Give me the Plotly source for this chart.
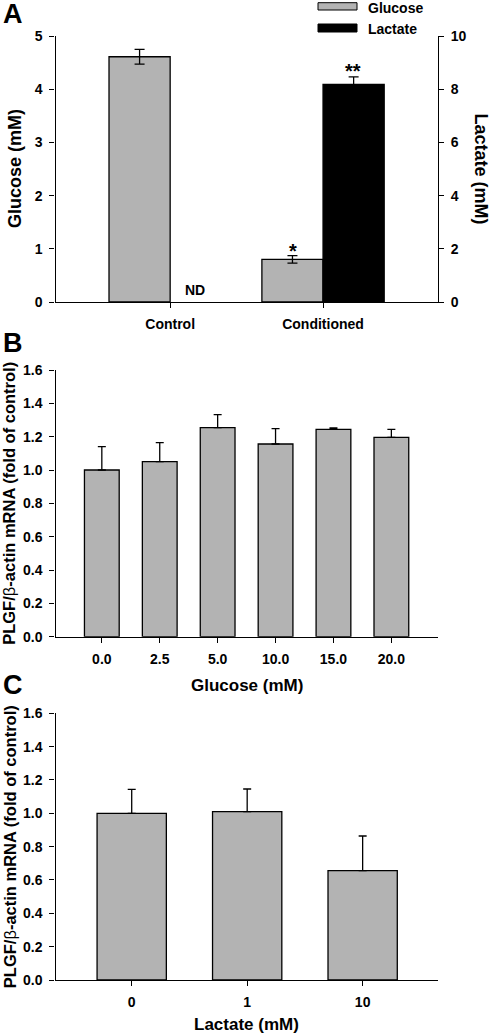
import plotly.graph_objects as go

W, H = 491, 1036

# ---------------- data ----------------
# Panel A
a_categories = ["Control", "Conditioned"]
a_glucose = [4.61, 0.80]
a_glucose_err = [0.14, 0.07]
a_lactate = [None, 8.18]          # ND for control
a_lactate_err = [0, 0.28]

# Panel B
b_categories = ["0.0", "2.5", "5.0", "10.0", "15.0", "20.0"]
b_values = [1.00, 1.05, 1.254, 1.156, 1.244, 1.196]
b_err = [0.14, 0.114, 0.078, 0.092, 0.008, 0.048]

# Panel C
c_categories = ["0", "1", "10"]
c_values = [1.00, 1.01, 0.656]
c_err = [0.144, 0.136, 0.208]

# ---------------- style ----------------
GRAY = "#b3b3b3"
FONT = "Liberation Sans"
TICKFONT = dict(family=FONT, size=14, color="black", weight="bold")


def bold(size):
    return dict(family=FONT, size=size, color="black", weight="bold")


def px_x(x):
    return x / W


def px_y(y):
    return 1 - y / H


X_DOM = [px_x(55.5), px_x(437.7)]
A_DOM = [px_y(302), px_y(36)]
B_DOM = [px_y(636.7), px_y(370)]
C_DOM = [px_y(980), px_y(713.3)]

fig = go.Figure()

# Panel A bars
fig.add_trace(go.Bar(
    x=a_categories, y=a_glucose, name="Glucose",
    offset=-0.4, width=0.4,
    marker=dict(color=GRAY, line=dict(color="black", width=1.3)),
    error_y=dict(type="data", array=a_glucose_err, color="black", thickness=1.3, width=5),
    xaxis="x", yaxis="y", showlegend=False,
))
fig.add_trace(go.Bar(
    x=a_categories, y=a_lactate, name="Lactate",
    offset=0.0, width=0.4,
    marker=dict(color="black", line=dict(color="black", width=1.3)),
    error_y=dict(type="data", array=a_lactate_err, color="black", thickness=1.3, width=5),
    xaxis="x", yaxis="y2", showlegend=False,
))

# Panel B
fig.add_trace(go.Bar(
    x=b_categories, y=b_values, width=0.6,
    marker=dict(color=GRAY, line=dict(color="black", width=1.3)),
    error_y=dict(type="data", array=b_err, arrayminus=[0] * len(b_err),
                 color="black", thickness=1.3, width=4),
    xaxis="x2", yaxis="y3", showlegend=False,
))

# Panel C
fig.add_trace(go.Bar(
    x=c_categories, y=c_values, width=0.6,
    marker=dict(color=GRAY, line=dict(color="black", width=1.3)),
    error_y=dict(type="data", array=c_err, arrayminus=[0] * len(c_err),
                 color="black", thickness=1.3, width=4),
    xaxis="x3", yaxis="y4", showlegend=False,
))

axis_common = dict(
    showline=True, linecolor="black", linewidth=1.3,
    ticks="outside", ticklen=5, tickwidth=1.3, tickcolor="black",
    showgrid=False, zeroline=False, tickfont=TICKFONT, automargin=False,
    fixedrange=True,
)

fig.update_layout(
    width=W, height=H,
    margin=dict(l=0, r=0, t=0, b=0),
    paper_bgcolor="white", plot_bgcolor="white",
    barmode="overlay",
    xaxis=dict(domain=X_DOM, anchor="y", type="category",
               range=[-0.75, 1.75], ticklabelstandoff=4, **axis_common),
    yaxis=dict(domain=A_DOM, anchor="x", range=[0, 5], dtick=1,
               ticklabelstandoff=4, **axis_common),
    yaxis2=dict(overlaying="y", side="right", anchor="x", range=[0, 10], dtick=2,
                ticklabelstandoff=4, **axis_common),
    xaxis2=dict(domain=X_DOM, anchor="y3", type="category",
                range=[-0.8, 5.8], ticklabelstandoff=4, **axis_common),
    yaxis3=dict(domain=B_DOM, anchor="x2", range=[0, 1.6], dtick=0.2,
                tickformat=".1f", ticklabelstandoff=4, **axis_common),
    xaxis3=dict(domain=X_DOM, anchor="y4", type="category",
                range=[-0.66, 2.65], ticklabelstandoff=4, **axis_common),
    yaxis4=dict(domain=C_DOM, anchor="x3", range=[0, 1.6], dtick=0.2,
                tickformat=".1f", ticklabelstandoff=4, **axis_common),
)

ann = []


def paper_text(text, x, y, font, xanchor="center", textangle=0):
    ann.append(dict(text=text, x=px_x(x), y=px_y(y), xref="paper", yref="paper",
                    showarrow=False, font=font, xanchor=xanchor, yanchor="middle",
                    textangle=textangle))


# Panel letters
paper_text("A", 13, 14, bold(27))
paper_text("B", 13, 343, bold(27))
paper_text("C", 13, 685, bold(27))

# Axis titles
paper_text("Glucose (mM)", 15, 169, bold(18), textangle=-90)
paper_text("Lactate (mM)", 480.5, 169, bold(18), textangle=90)
YT = 'PLGF/<span style="font-weight:normal">β</span>-actin mRNA (fold of control)'
paper_text(YT, 9.5, 503.3, bold(16.5), textangle=-90)
paper_text(YT, 9.5, 846.7, bold(16.5), textangle=-90)
paper_text("Glucose (mM)", 246.6, 685, bold(17))
paper_text("Lactate (mM)", 246.6, 1024, bold(17))

# Legend (panel A)
fig.add_shape(type="rect", xref="paper", yref="paper",
              x0=px_x(318), x1=px_x(357), y0=px_y(10), y1=px_y(2.7),
              fillcolor=GRAY, line=dict(color="black", width=1))
fig.add_shape(type="rect", xref="paper", yref="paper",
              x0=px_x(318), x1=px_x(357), y0=px_y(32), y1=px_y(24),
              fillcolor="black", line=dict(color="black", width=1))
paper_text("Glucose", 366, 8, bold(14), xanchor="left")
paper_text("Lactate", 366, 28.5, bold(14), xanchor="left")

# Significance marks and ND (data coords)
ann.append(dict(text="ND", x="Control", xref="x", y=0, yref="y", showarrow=False,
                xanchor="center", yanchor="middle",
                xshift=25, yshift=12, font=bold(14)))
ann.append(dict(text="*", x="Conditioned", xref="x", y=a_glucose[1] + a_glucose_err[1], yref="y",
                showarrow=False, xanchor="center", yanchor="middle",
                xshift=-30, yshift=5, font=bold(20)))
ann.append(dict(text="**", x="Conditioned", xref="x", y=a_lactate[1] + a_lactate_err[1], yref="y2",
                showarrow=False, xanchor="center", yanchor="middle",
                xshift=30, yshift=6, font=bold(20)))

fig.update_layout(annotations=ann)

fig.write_html(
    "out.html",
    config={"displayModeBar": False},
    post_script="document.body.style.margin='0';document.body.style.padding='0';",
)
